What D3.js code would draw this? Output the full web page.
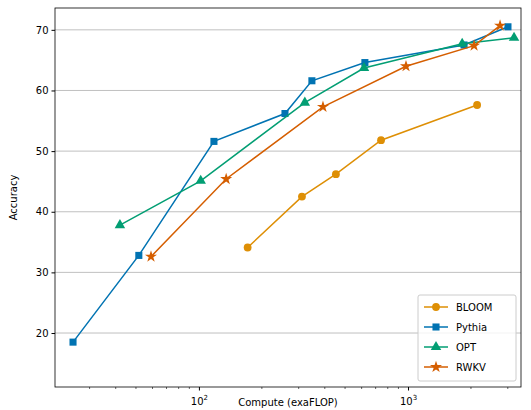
<!DOCTYPE html><html><head><script src="https://cdn.jsdelivr.net/npm/d3@7"></script>
<style>body{margin:0;background:#fff}text{font-family:"DejaVu Sans",sans-serif}</style></head><body>
<svg id="c" width="531" height="410"></svg>
<script>
const names=["BLOOM","Pythia","OPT","RWKV"];
const colors=["#DE8F05","#0173B2","#029E73","#D55E00"];
const shapes=["circle","square","triangle","star"];
const bloomX=[171,311,452,743,2140], bloomY=[34.1,42.5,46.2,51.8,57.6];
const pythiaX=[25,51.6,118,258,347,622,1853,3006], pythiaY=[18.5,32.8,51.6,56.2,61.6,64.6,67.5,70.5];
const optX=[41.9,102,321,616,1816,3214], optY=[37.8,45.1,58.0,63.7,67.7,68.7];
const rwkvX=[59,135,392,978,2070,2755], rwkvY=[32.6,45.4,57.3,64.0,67.4,70.7];
const yTicks=[20,30,40,50,60,70];
const series=[[bloomX,bloomY],[pythiaX,pythiaY],[optX,optY],[rwkvX,rwkvY]];
const svg=d3.select("#c");
const L=55,R=521,T=8,B=387;
const x=d3.scaleLog().domain([20.5,3470]).range([L,R]);
const y=d3.scaleLinear().domain([11.1,73.6]).range([B,T]);
svg.append("g").selectAll("line").data(yTicks).join("line").attr("x1",L).attr("x2",R).attr("y1",d=>y(d)).attr("y2",d=>y(d)).attr("stroke","#b0b0b0").attr("stroke-width",0.8);
const ya=svg.append("g").attr("transform",`translate(${L},0)`).call(d3.axisLeft(y).tickValues(yTicks).tickSize(3.5).tickFormat(d3.format("d")));
const xa=svg.append("g").attr("transform",`translate(0,${B})`).call(d3.axisBottom(x).tickValues([100,1000]).tickSize(3.5).tickFormat(()=>""));
xa.selectAll(".tick").append("text").attr("y",18).attr("fill","#000").attr("text-anchor","middle").attr("font-size",10).each(function(d){const t=d3.select(this);t.append("tspan").text("10");t.append("tspan").attr("dy",-5).attr("font-size",7).text(d==100?"2":"3");});
const minor=[];for(let e=1;e<4;e++)for(let k=2;k<10;k++){const v=k*10**e;if(v>20.5&&v<3470)minor.push(v);}
svg.append("g").selectAll("line").data(minor).join("line").attr("x1",d=>x(d)).attr("x2",d=>x(d)).attr("y1",B).attr("y2",B+2).attr("stroke","#000").attr("stroke-width",0.6);
svg.selectAll(".domain").remove();
svg.append("rect").attr("x",L).attr("y",T).attr("width",R-L).attr("height",B-T).attr("fill","none").attr("stroke","#000").attr("stroke-width",0.8);
ya.selectAll("text").attr("font-size",10);
svg.append("text").attr("x",(L+R)/2).attr("y",406).attr("text-anchor","middle").attr("font-size",10).text("Compute (exaFLOP)");
svg.append("text").attr("transform",`translate(17,${(T+B)/2}) rotate(-90)`).attr("text-anchor","middle").attr("font-size",10).text("Accuracy");
const sym={circle:d3.symbolCircle,square:d3.symbolSquare,triangle:d3.symbolTriangle,star:d3.symbolStar};
const size={circle:48,square:50,triangle:48,star:45};
function marker(g,s,c,px,py){g.append("path").attr("d",d3.symbol(sym[s],size[s])()).attr("transform",`translate(${px},${py})`).attr("fill",c);}
series.forEach(([xs,ys],i)=>{
 const pts=xs.map((v,j)=>[x(v),y(ys[j])]);
 svg.append("path").attr("d",d3.line()(pts)).attr("fill","none").attr("stroke",colors[i]).attr("stroke-width",1.5);
 const g=svg.append("g");pts.forEach(p=>marker(g,shapes[i],colors[i],p[0],p[1]));
});
const lg=svg.append("g").attr("transform","translate(418,295)");
lg.append("rect").attr("width",98).attr("height",86).attr("rx",2).attr("fill","#fff").attr("fill-opacity",0.8).attr("stroke","#ccc");
names.forEach((n,i)=>{const yy=12+i*20;
 lg.append("line").attr("x1",6).attr("x2",30).attr("y1",yy).attr("y2",yy).attr("stroke",colors[i]).attr("stroke-width",1.5);
 marker(lg,shapes[i],colors[i],18,yy);
 lg.append("text").attr("x",38).attr("y",yy+4).attr("font-size",10).text(n);});
</script></body></html>
